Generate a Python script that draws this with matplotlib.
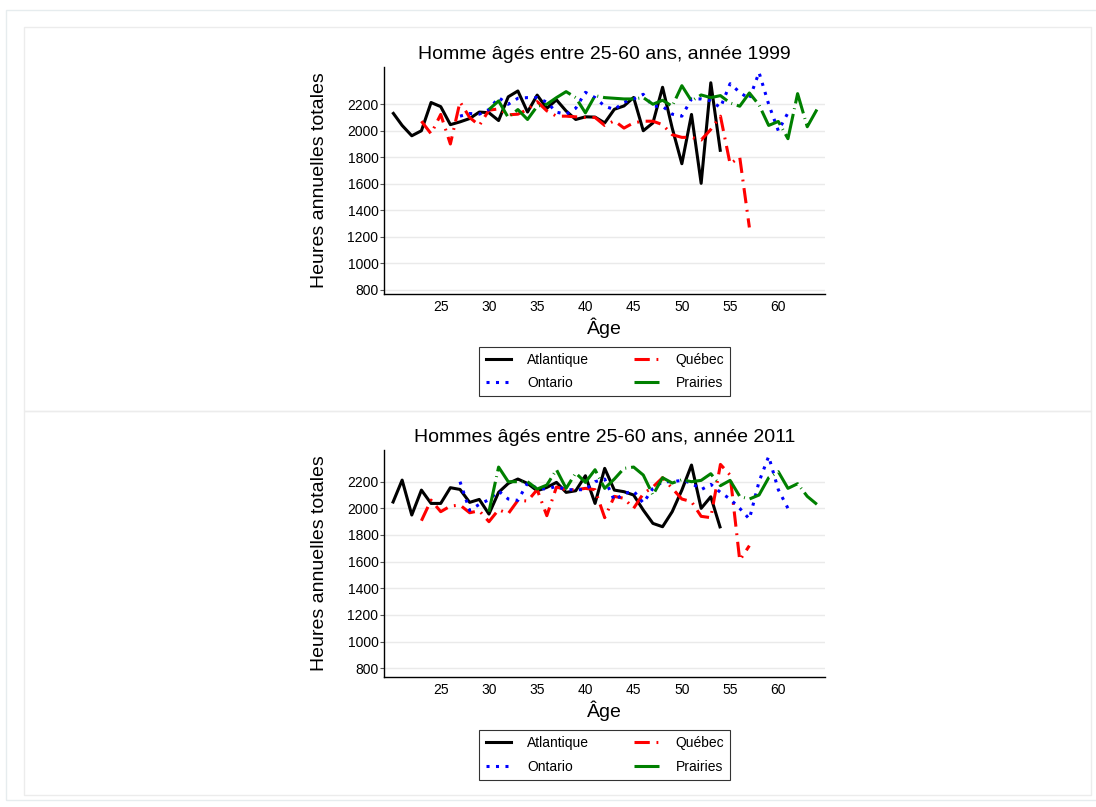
import matplotlib.pyplot as plt
from matplotlib.patches import Rectangle
from matplotlib.lines import Line2D

plt.rcParams['font.family'] = ['Liberation Sans', 'DejaVu Sans']

regions = ["Atlantique", "Ontario", "Québec", "Prairies"]

# 1999
atl_ages_99 = list(range(20, 55))
atl_99 = [2140, 2040, 1962, 2000, 2213, 2182, 2046, 2067, 2092, 2141, 2136, 2077,
          2256, 2300, 2141, 2269, 2169, 2233, 2149, 2085, 2105, 2103, 2059, 2162,
          2187, 2251, 2000, 2059, 2328, 2020, 1751, 2123, 1603, 2362, 1841]
qc_ages_99 = list(range(23, 58))
qc_99 = [2072, 1977, 2123, 1900, 2218, 2100, 2040, 2155, 2165, 2120, 2125, 2160,
         2220, 2150, 2110, 2110, 2105, 2100, 2100, 2040, 2075, 2020, 2060, 2072,
         2072, 2046, 1970, 1950, 1950, 1930, 2010, 2110, 1750, 1800, 1270]
on_ages_99 = list(range(27, 62))
on_99 = [2110, 2130, 2125, 2160, 2250, 2200, 2245, 2250, 2250, 2215, 2140, 2125,
         2170, 2290, 2250, 2185, 2160, 2215, 2240, 2275, 2185, 2185, 2125, 2110,
         2240, 2240, 2225, 2175, 2355, 2290, 2240, 2440, 2200, 2000, 2135]
pr_ages_99 = list(range(30, 65))
pr_99 = [2160, 2225, 2100, 2160, 2085, 2185, 2200, 2250, 2295, 2250, 2135, 2265,
         2250, 2245, 2240, 2240, 2250, 2200, 2230, 2185, 2340, 2225, 2270, 2250,
         2265, 2210, 2185, 2285, 2195, 2040, 2070, 1940, 2280, 2030, 2160]

# 2011
atl_ages_11 = list(range(20, 55))
atl_11 = [2037, 2212, 1950, 2137, 2037, 2037, 2155, 2142, 2045, 2067, 1957, 2120,
          2187, 2220, 2187, 2132, 2157, 2195, 2120, 2132, 2245, 2037, 2300, 2137,
          2125, 2100, 1987, 1887, 1862, 1975, 2137, 2325, 2000, 2087, 1850]
qc_ages_11 = list(range(23, 58))
qc_11 = [1907, 2062, 1975, 2017, 2025, 1967, 1982, 1900, 1990, 1960, 2060, 2055,
         2140, 1945, 2160, 2140, 2140, 2150, 2140, 1930, 2090, 2075, 2000, 2110,
         2160, 2230, 2150, 2070, 2050, 1940, 1930, 2330, 2250, 1610, 1720]
on_ages_11 = list(range(27, 62))
on_11 = [2200, 1985, 2030, 2065, 2130, 2070, 2060, 2190, 2150, 2145, 2165, 2140,
         2140, 2140, 2200, 2220, 2060, 2110, 2130, 2040, 2150, 2200, 2200, 2210,
         2190, 2140, 2180, 2120, 2070, 2000, 1920, 2200, 2390, 2140, 2000]
pr_ages_11 = list(range(30, 65))
pr_11 = [1975, 2310, 2200, 2200, 2200, 2145, 2175, 2290, 2150, 2265, 2195, 2290,
         2150, 2220, 2300, 2310, 2250, 2100, 2230, 2190, 2215, 2200, 2210, 2260,
         2170, 2210, 2090, 2070, 2100, 2230, 2275, 2150, 2185, 2090, 2030]

yticks = [800, 1000, 1200, 1400, 1600, 1800, 2000, 2200]
xticks = [25, 30, 35, 40, 45, 50, 55, 60]

styles = {
    "Atlantique": dict(color="black", linestyle="-"),
    "Québec": dict(color="red", linestyle=(0, (5, 2.2, 0.6, 2.2))),
    "Ontario": dict(color="blue", linestyle=(0, (1, 2.1))),
    "Prairies": dict(color="green", linestyle=(0, (10, 1.6, 0.3, 1.6))),
}
LW = 2.2

W, H = 1096, 807
fig = plt.figure(figsize=(W / 100, H / 100), dpi=100)

# Stata-like panel frames
def frame(x0, y0, x1, y1, color):
    fig.add_artist(Rectangle((x0 / W, 1 - y1 / H), (x1 - x0) / W, (y1 - y0) / H,
                             transform=fig.transFigure, fill=False, ec=color, lw=1))

frame(6, 10, 1100, 800, "#e6ecee")
frame(23.5, 27.5, 1091, 411, "#ececec")
frame(23.5, 411, 1091, 795, "#ececec")


def draw_panel(top, title, data, ylim, legend_y):
    ax = fig.add_axes([384 / W, 1 - (top + 227) / H, 441 / W, 227 / H])
    for name in ["Atlantique", "Québec", "Ontario", "Prairies"]:
        ages, vals = data[name]
        ax.plot(ages, vals, lw=LW, solid_capstyle="butt", dash_capstyle="butt",
                **styles[name])
    ax.set_xlim(19.12, 64.84)
    ax.set_ylim(*ylim)
    ax.set_yticks(yticks)
    ax.set_xticks(xticks)
    ax.grid(axis="y", color="#eaeaea", lw=1)
    ax.set_axisbelow(True)
    for s in ["top", "right"]:
        ax.spines[s].set_visible(False)
    for s in ["left", "bottom"]:
        ax.spines[s].set_linewidth(1)
    ax.tick_params(axis="y", length=3, width=0.8, pad=1, labelsize=10, color="#555555")
    ax.tick_params(axis="x", length=0, pad=4, labelsize=10)
    ax.set_title(title, fontsize=14, pad=6)
    ax.set_ylabel("Heures annuelles totales", fontsize=14)
    ax.yaxis.set_label_coords(-0.128, 0.5)
    ax.set_xlabel("Âge", fontsize=14)
    ax.xaxis.set_label_coords(0.5, -0.105)

    handles = [Line2D([], [], lw=LW, **styles[n]) for n in regions]
    leg = fig.legend(handles, regions, loc="center", ncol=2, fontsize=10,
                     bbox_to_anchor=(604.9 / W, 1 - legend_y / H),
                     bbox_transform=fig.transFigure, frameon=True, fancybox=False,
                     handlelength=1.8, handletextpad=1.2, columnspacing=3.2,
                     labelspacing=0.68, borderpad=0.45, borderaxespad=0)
    leg.get_frame().set_edgecolor("black")
    leg.get_frame().set_linewidth(0.8)
    return ax


draw_panel(67, "Homme âgés entre 25-60 ans, année 1999",
           {"Atlantique": (atl_ages_99, atl_99), "Québec": (qc_ages_99, qc_99),
            "Ontario": (on_ages_99, on_99), "Prairies": (pr_ages_99, pr_99)},
           (768, 2481), 371.5)
draw_panel(450, "Hommes âgés entre 25-60 ans, année 2011",
           {"Atlantique": (atl_ages_11, atl_11), "Québec": (qc_ages_11, qc_11),
            "Ontario": (on_ages_11, on_11), "Prairies": (pr_ages_11, pr_11)},
           (734, 2438), 755)

fig.savefig("out.png", dpi=100, facecolor="white")
